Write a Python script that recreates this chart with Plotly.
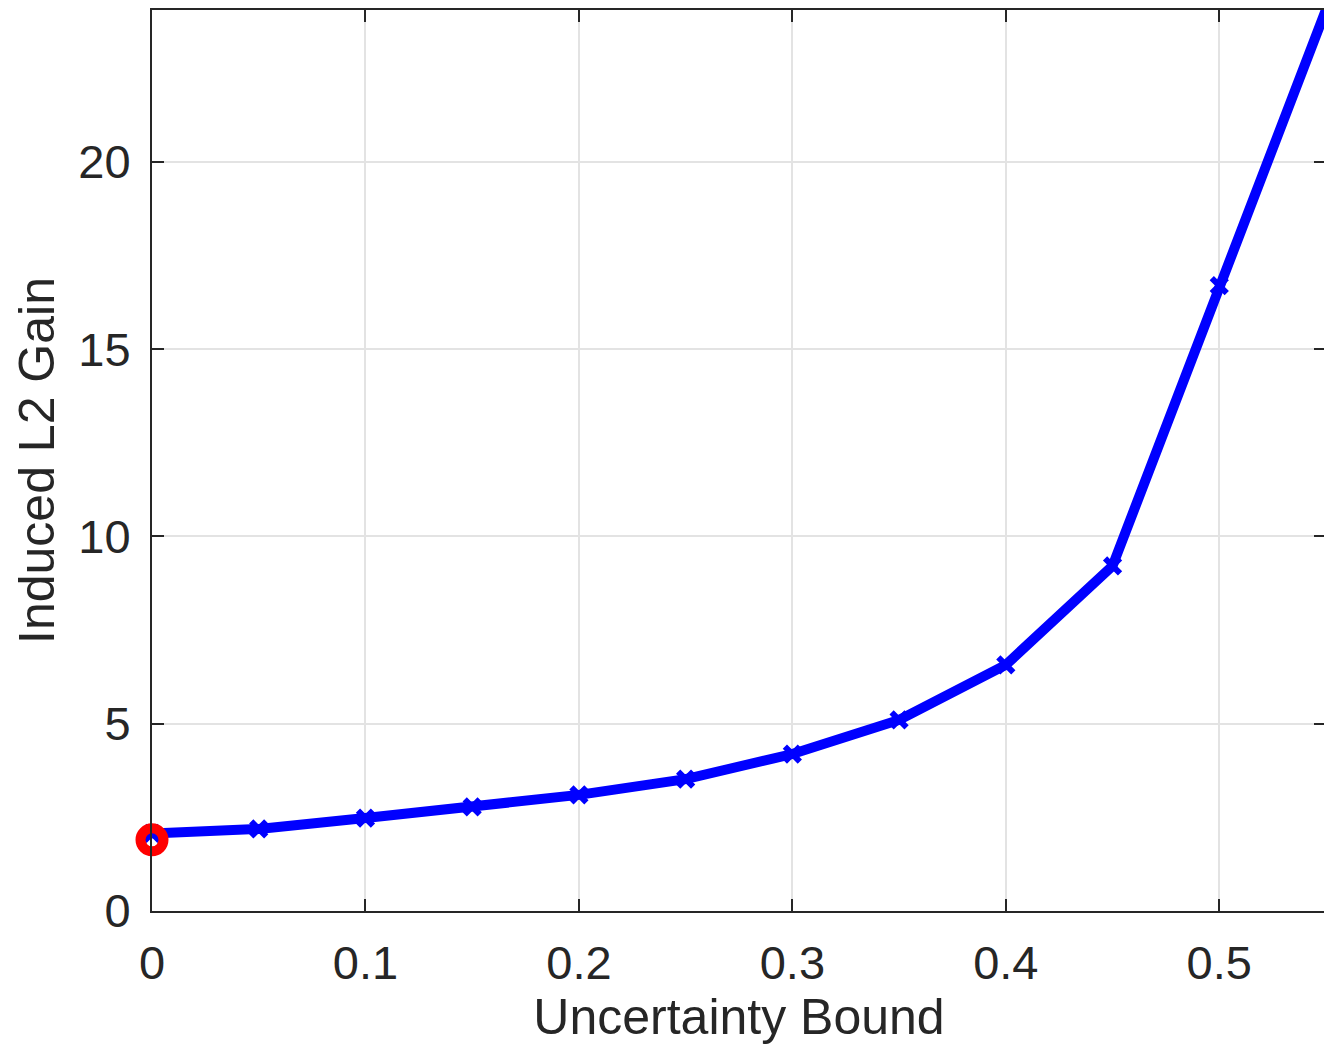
import plotly.graph_objects as go

uncertainty_bound = [0.0, 0.05, 0.1, 0.15, 0.2, 0.25, 0.3, 0.35, 0.4, 0.45, 0.5, 0.55]
induced_l2_gain = [2.07, 2.19, 2.48, 2.78, 3.10, 3.52, 4.19, 5.10, 6.57, 9.21, 16.69, 24.06]
nominal_x = [0.0]
nominal_gain = [1.9]

x_ticks = [0, 0.1, 0.2, 0.3, 0.4, 0.5]
x_tick_labels = ["0", "0.1", "0.2", "0.3", "0.4", "0.5"]
y_ticks = [0, 5, 10, 15, 20]
y_tick_labels = ["0", "5", "10", "15", "20"]

FONT = "Liberation Sans, Arial, Helvetica, sans-serif"
AX = "#262626"

fig = go.Figure()
fig.add_trace(go.Scatter(
    x=uncertainty_bound, y=induced_l2_gain, mode="lines+markers",
    line=dict(color="#0000ff", width=10),
    marker=dict(symbol="x-thin", size=15, color="#0000ff",
                line=dict(color="#0000ff", width=6)),
    cliponaxis=False, showlegend=False,
))
fig.add_trace(go.Scatter(
    x=nominal_x, y=nominal_gain, mode="markers",
    marker=dict(symbol="circle-open", size=23, color="#ff0000",
                line=dict(color="#ff0000", width=10)),
    cliponaxis=False, showlegend=False,
))

fig.update_layout(
    width=1328, height=1061,
    margin=dict(l=152, r=0, t=10, b=150),
    paper_bgcolor="white", plot_bgcolor="white",
    font=dict(family=FONT, size=47, color=AX),
)
fig.update_xaxes(
    range=[0, 0.55], tickvals=x_ticks, ticktext=x_tick_labels,
    showgrid=True, gridcolor="#e3e3e3", gridwidth=1.5,
    showline=True, linecolor=AX, linewidth=2, mirror="ticks",
    ticks="inside", ticklen=12, tickwidth=2, tickcolor=AX,
    ticklabelstandoff=10,
    zeroline=False,
    title=dict(text="Uncertainty Bound", font=dict(size=50, family=FONT, color=AX), standoff=7),
)
fig.update_yaxes(
    range=[0, 24.05], tickvals=y_ticks, ticktext=y_tick_labels,
    showgrid=True, gridcolor="#e3e3e3", gridwidth=1.5,
    showline=True, linecolor=AX, linewidth=2, mirror="ticks",
    ticks="inside", ticklen=12, tickwidth=2, tickcolor=AX,
    ticklabelstandoff=10,
    zeroline=False,
    title=dict(text="Induced L2 Gain", font=dict(size=50, family=FONT, color=AX), standoff=8),
)

fig.write_html(
    "out.html",
    config={"displayModeBar": False},
    post_script="document.body.style.margin='0';document.body.style.overflow='hidden';"
                "document.documentElement.style.overflow='hidden';",
)
